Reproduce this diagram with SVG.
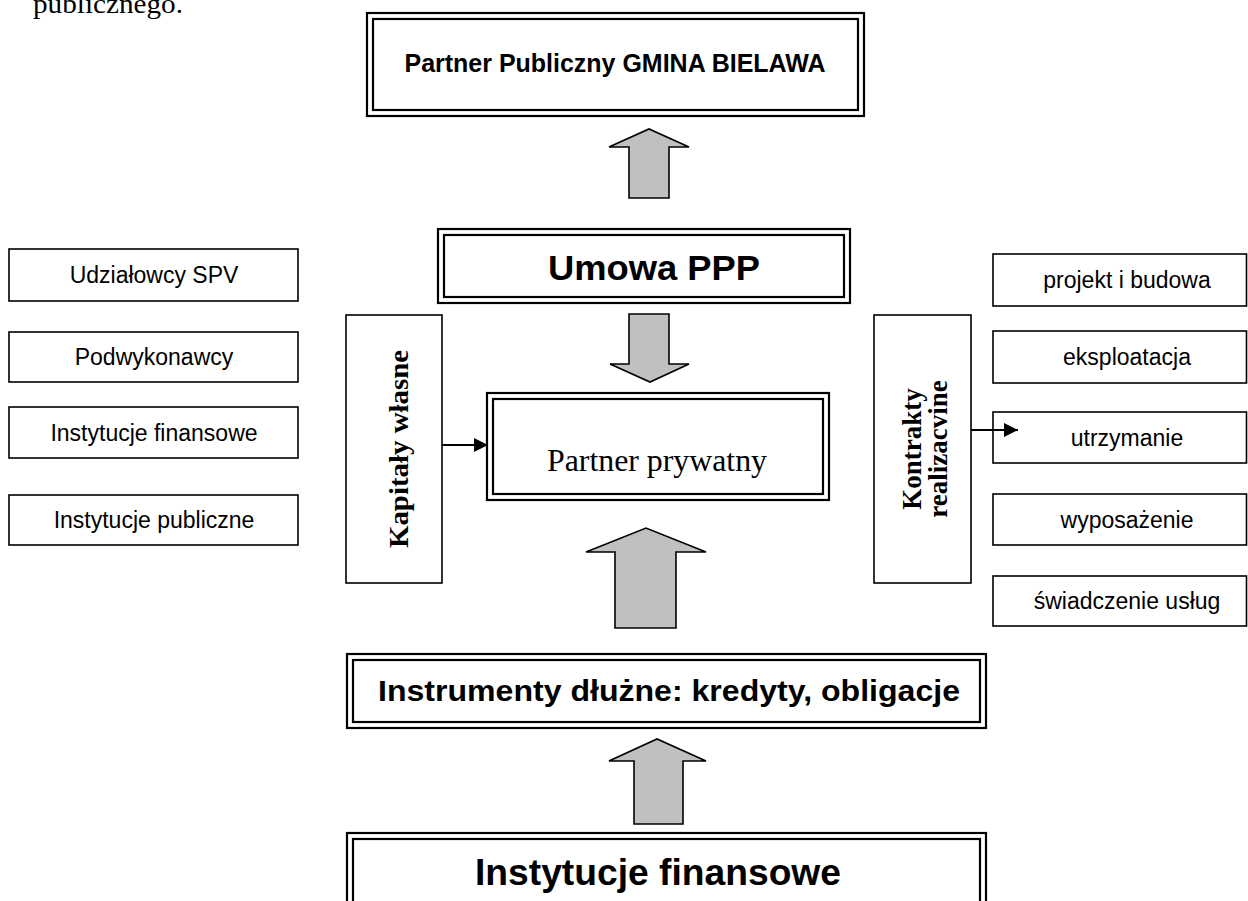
<svg xmlns="http://www.w3.org/2000/svg" width="1248" height="901" viewBox="0 0 1248 901">
<defs>
<style>
.bg{fill:#fff}
.box{fill:#fff;stroke:#000;stroke-width:1.6}
.dbl{fill:none;stroke:#000;stroke-width:2.2}
.sans{font-family:"Liberation Sans",Arial,sans-serif;fill:#000}
.serif{font-family:"Liberation Serif","Times New Roman",serif;fill:#000}
.small{font-size:23px;text-anchor:middle}
.bold{font-weight:bold}
.blk{fill:#c0c0c0;stroke:#000;stroke-width:1.6;stroke-linejoin:miter}
.ln{stroke:#000;stroke-width:2;fill:none}
</style>
<marker id="ah" markerUnits="userSpaceOnUse" markerWidth="15" markerHeight="15" refX="14" refY="7" orient="auto">
<path d="M0,0 L14,7 L0,14 Z" fill="#000"/>
</marker>
</defs>
<rect class="bg" x="0" y="0" width="1248" height="901"/>
<text class="serif" x="33" y="13" font-size="28" textLength="150" lengthAdjust="spacingAndGlyphs">publicznego.</text>

<g id="partner-publiczny">
<rect class="dbl" x="367" y="13" width="497" height="103"/>
<rect class="dbl" x="373" y="19" width="485" height="91"/>
<text class="sans bold" x="615" y="72" font-size="25" text-anchor="middle" textLength="421" lengthAdjust="spacingAndGlyphs">Partner Publiczny GMINA BIELAWA</text>
</g>

<g id="umowa-ppp">
<rect class="dbl" x="438" y="229" width="412" height="74"/>
<rect class="dbl" x="444" y="235" width="400" height="62"/>
<text class="sans bold" x="654" y="280" font-size="35" text-anchor="middle" textLength="212" lengthAdjust="spacingAndGlyphs">Umowa PPP</text>
</g>

<g id="udzialowcy"><rect class="box" x="9" y="249" width="289" height="52"/><text class="sans small" x="154" y="283">Udziałowcy SPV</text></g>
<g id="podwykonawcy"><rect class="box" x="9" y="332" width="289" height="50"/><text class="sans small" x="154" y="365">Podwykonawcy</text></g>
<g id="instytucje-fin-left"><rect class="box" x="9" y="407" width="289" height="51"/><text class="sans small" x="154" y="441">Instytucje finansowe</text></g>
<g id="instytucje-publiczne"><rect class="box" x="9" y="495" width="289" height="50"/><text class="sans small" x="154" y="528">Instytucje publiczne</text></g>

<g id="projekt"><rect class="box" x="993" y="254" width="253.5" height="52"/><text class="sans small" x="1127" y="288">projekt i budowa</text></g>
<g id="eksploatacja"><rect class="box" x="993" y="331" width="253.5" height="52"/><text class="sans small" x="1127" y="365">eksploatacja</text></g>
<g id="utrzymanie"><rect class="box" x="993" y="412" width="253.5" height="51"/><text class="sans small" x="1127" y="446">utrzymanie</text></g>
<g id="wyposazenie"><rect class="box" x="993" y="494" width="253.5" height="51"/><text class="sans small" x="1127" y="528">wyposażenie</text></g>
<g id="swiadczenie"><rect class="box" x="993" y="576" width="253.5" height="50"/><text class="sans small" x="1127" y="609">świadczenie usług</text></g>

<g id="kapitaly">
<rect class="box" x="346" y="315" width="96" height="268"/>
<text class="serif bold" transform="translate(408,449) rotate(-90)" font-size="28" text-anchor="middle" textLength="198" lengthAdjust="spacingAndGlyphs">Kapitały własne</text>
</g>

<g id="kontrakty">
<rect class="box" x="874" y="315" width="97" height="268"/>
<text class="serif bold" transform="translate(921,449) rotate(-90)" font-size="27" text-anchor="middle">Kontrakty</text>
<text class="serif bold" transform="translate(947,449) rotate(-90)" font-size="27" text-anchor="middle">realizacvine</text>
</g>

<g id="partner-prywatny">
<rect class="dbl" x="487" y="393" width="342" height="107"/>
<rect class="dbl" x="493" y="399" width="330" height="95"/>
<text class="serif" x="657" y="471" font-size="31" text-anchor="middle" textLength="220" lengthAdjust="spacingAndGlyphs">Partner prywatny</text>
</g>

<g id="instrumenty">
<rect class="dbl" x="347" y="654" width="639" height="74"/>
<rect class="dbl" x="353" y="660" width="627" height="62"/>
<text class="sans bold" x="669" y="701" font-size="30" text-anchor="middle" textLength="582" lengthAdjust="spacingAndGlyphs">Instrumenty dłużne: kredyty, obligacje</text>
</g>

<g id="instytucje-finansowe">
<rect class="dbl" x="347" y="833" width="639" height="80"/>
<rect class="dbl" x="353" y="839" width="627" height="68"/>
<text class="sans bold" x="658" y="885" font-size="36" text-anchor="middle" textLength="366" lengthAdjust="spacingAndGlyphs">Instytucje finansowe</text>
</g>

<g id="connectors">
<polygon class="blk" points="629,198 629,147 609,147 649,129 689,147 669,147 669,198"/>
<polygon class="blk" points="629,314 669,314 669,364 689,364 650,382 610,364 629,364"/>
<polygon class="blk" points="615,628 615,552 586,552 646,528 706,552 676,552 676,628"/>
<polygon class="blk" points="634,824 634,761 609,761 657,739 706,761 683,761 683,824"/>
<line class="ln" x1="442" y1="445" x2="488" y2="445" marker-end="url(#ah)"/>
<line class="ln" x1="971" y1="430" x2="1018" y2="430" marker-end="url(#ah)"/>
</g>
</svg>
